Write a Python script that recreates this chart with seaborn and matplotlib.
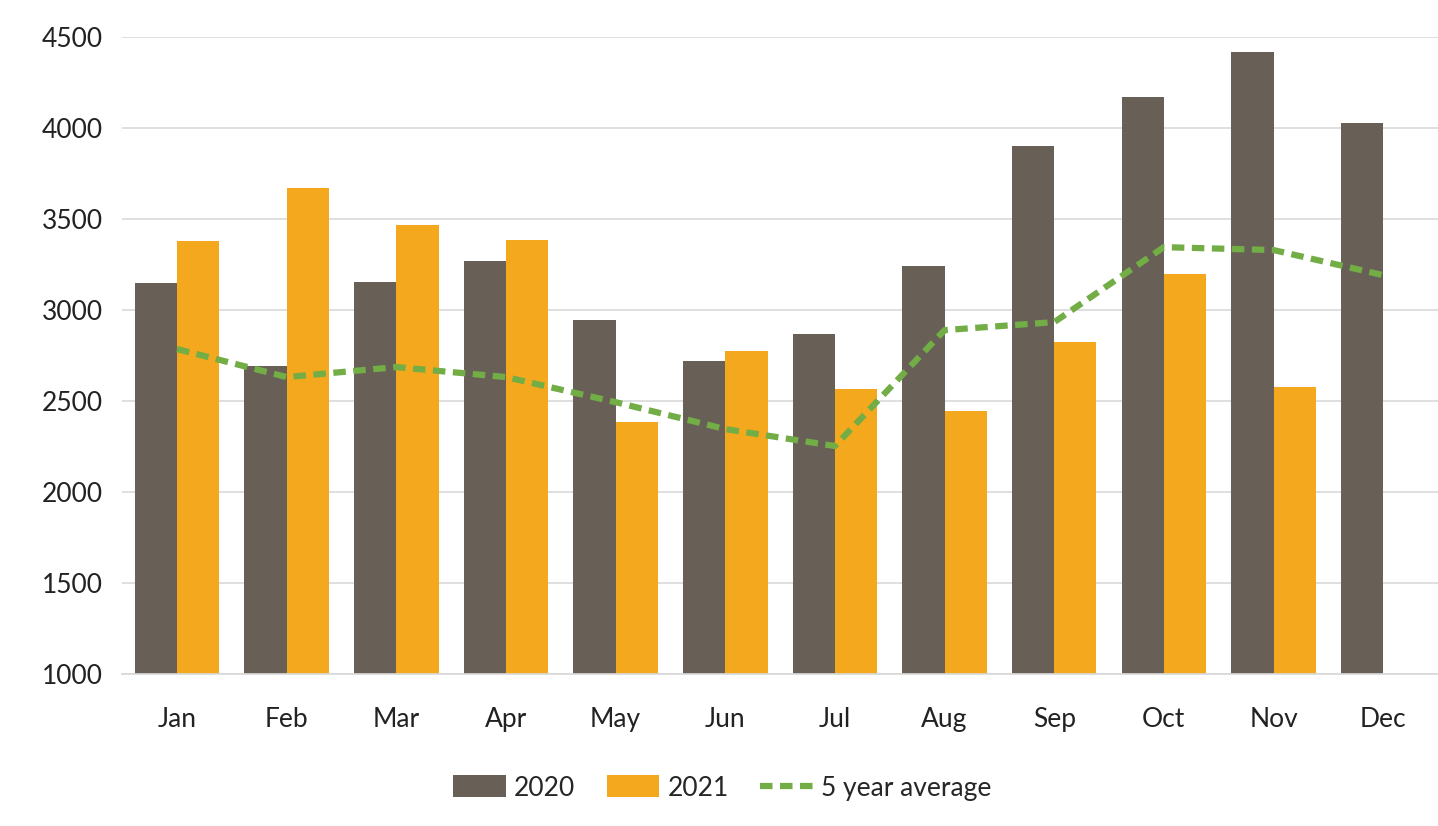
import matplotlib
matplotlib.use("Agg")
import matplotlib.pyplot as plt
import seaborn as sns
import pandas as pd
import numpy as np

months = ["Jan", "Feb", "Mar", "Apr", "May", "Jun", "Jul", "Aug", "Sep", "Oct", "Nov", "Dec"]
vals_2020 = [3148, 2692, 3154, 3269, 2945, 2720, 2868, 3242, 3901, 4170, 4418, 4027]
vals_2021 = [3379, 3670, 3467, 3385, 2384, 2775, 2566, 2445, 2824, 3198, 2577, np.nan]
avg_5y = [2786, 2632, 2687, 2632, 2494, 2346, 2253, 2890, 2934, 3346, 3330, 3192]

sns.set_theme(style="white")
plt.rcParams["font.family"] = ["Lato", "DejaVu Sans"]

df = pd.DataFrame({
    "month": months * 2,
    "year": ["2020"] * 12 + ["2021"] * 12,
    "value": vals_2020 + vals_2021,
})

fig, ax = plt.subplots(figsize=(14.38, 8.26), dpi=100)
fig.subplots_adjust(left=0.085, right=1.0, top=0.955, bottom=0.184)

sns.barplot(data=df, x="month", y="value", hue="year", order=months,
            palette={"2020": "#686057", "2021": "#f4a81d"}, width=0.77,
            saturation=1, linewidth=0, ax=ax)
ax.plot(range(len(months)), avg_5y, color="#72ad45", linewidth=4.5,
        linestyle=(0, (2, 1.2)), label="5 year average", zorder=5)

ax.set_ylim(1000, 4500)
ax.set_yticks(range(1000, 4501, 500))
ax.set_xlim(-0.5, 11.5)
ax.yaxis.grid(True, color="#d9d9d9", linewidth=1.2)
ax.set_axisbelow(True)
for s in ["top", "right", "left"]:
    ax.spines[s].set_visible(False)
ax.spines["bottom"].set_color("#d9d9d9")
ax.set_xlabel("")
ax.set_ylabel("")
ax.tick_params(axis="both", labelsize=19, colors="#222222", length=0)
ax.tick_params(axis="x", pad=24)
ax.tick_params(axis="y", pad=14)

ax.legend(loc="center", bbox_to_anchor=(0.456, -0.179), ncol=3, frameon=False,
          fontsize=19, handlelength=2.0, handleheight=0.9, columnspacing=1.2,
          handletextpad=0.3)

fig.savefig("out.png", dpi=100)
